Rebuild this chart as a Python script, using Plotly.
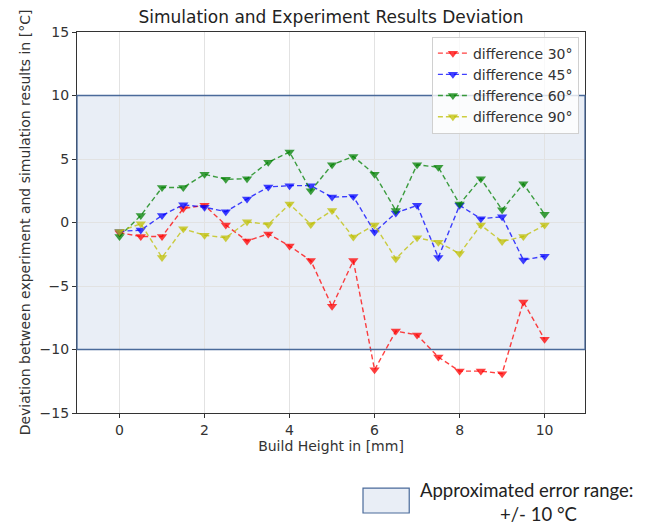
import plotly.graph_objects as go

# ---- data ----
build_height = [0, 0.5, 1, 1.5, 2, 2.5, 3, 3.5, 4, 4.5, 5, 5.5, 6, 6.5, 7, 7.5, 8, 8.5, 9, 9.5, 10]
diff_30 = [-0.8, -1.1, -1.1, 1.1, 1.35, -0.2, -1.45, -0.9, -1.85, -3.0, -6.6, -3.0, -11.6, -8.55, -8.85, -10.6, -11.7, -11.7, -11.9, -6.25, -9.2]
diff_45 = [-0.7, -0.6, 0.55, 1.4, 1.2, 0.85, 1.85, 2.8, 2.9, 2.9, 2.0, 2.05, -0.75, 0.75, 1.35, -2.75, 1.35, 0.3, 0.45, -2.95, -2.65]
diff_60 = [-1.1, 0.55, 2.75, 2.75, 3.8, 3.4, 3.45, 4.75, 5.55, 2.5, 4.55, 5.2, 3.8, 0.95, 4.55, 4.35, 1.45, 3.45, 1.0, 3.05, 0.65]
diff_90 = [-0.7, -0.1, -2.75, -0.5, -1.0, -1.2, 0.05, -0.15, 1.45, -0.15, 0.95, -1.15, -0.2, -2.85, -1.2, -1.55, -2.45, -0.2, -1.5, -1.1, -0.2]
series_names = ["difference 30°", "difference 45°", "difference 60°", "difference 90°"]
series_colors = ["rgba(255,0,0,0.75)", "rgba(0,0,255,0.75)", "rgba(0,128,0,0.75)", "rgba(191,191,0,0.75)"]
error_range = 10
x_ticks = [0, 2, 4, 6, 8, 10]
y_ticks = [-15, -10, -5, 0, 5, 10, 15]

fig = go.Figure()
for name, ys, col in zip(series_names, [diff_30, diff_45, diff_60, diff_90], series_colors):
    fig.add_trace(go.Scatter(
        x=build_height, y=ys, name=name, mode="lines+markers",
        line=dict(color=col, width=1.4, dash="5px,3px"),
        marker=dict(symbol="triangle-down", size=9, color=col, line=dict(width=0)),
    ))

# error range band (fill below grid, border above)
fig.add_shape(type="rect", xref="x domain", yref="y", x0=0, x1=1,
              y0=-error_range, y1=error_range, layer="below",
              fillcolor="#e9eef6", line=dict(width=0))
fig.add_shape(type="rect", xref="x domain", yref="y", x0=0, x1=1,
              y0=-error_range, y1=error_range, layer="above",
              fillcolor="rgba(0,0,0,0)", line=dict(color="#4a6a9a", width=1.3))

# external legend for error range
fig.add_shape(type="rect", xref="paper", yref="paper", x0=0.563, x1=0.654,
              y0=-0.2625, y1=-0.197, fillcolor="#e9eef6",
              line=dict(color="#4a6a9a", width=1.2))
fig.add_annotation(xref="paper", yref="paper", x=0.672, y=-0.203, xanchor="left",
                   yanchor="middle", showarrow=False, text="Approximated error range:",
                   font=dict(family="Lato", size=18.5, color="#222"))
fig.add_annotation(xref="paper", yref="paper", x=0.909, y=-0.264, xanchor="center",
                   yanchor="middle", showarrow=False, text="+/- 10 °C",
                   font=dict(family="Lato", size=18.5, color="#222"))

axis_common = dict(showline=True, mirror=True, linecolor="#333", linewidth=1.3,
                   ticks="outside", ticklen=4, tickcolor="#333", showgrid=True,
                   gridcolor="#e2e2e2", gridwidth=1, zeroline=False,
                   tickfont=dict(family="DejaVu Sans", size=14, color="#333"))

fig.update_xaxes(range=[-1, 10.95], tickvals=x_ticks,
                 title=dict(text="Build Height in [mm]", standoff=4,
                            font=dict(family="DejaVu Sans", size=14, color="#333")),
                 **axis_common)
fig.update_yaxes(range=[-15, 15], tickvals=y_ticks,
                 title=dict(text="Deviation between experiment and simulation results in [°C]",
                            standoff=5, font=dict(family="DejaVu Sans", size=14, color="#333")),
                 **axis_common)

fig.update_layout(
    width=646, height=526,
    margin=dict(l=77, r=61, t=32, b=113),
    plot_bgcolor="white", paper_bgcolor="white",
    title=dict(text="Simulation and Experiment Results Deviation", x=0.5, xref="paper",
               xanchor="center", y=0.967, yanchor="middle",
               font=dict(family="DejaVu Sans", size=17, color="#222")),
    legend=dict(x=0.988, y=0.988, xanchor="right", yanchor="top",
                bgcolor="rgba(255,255,255,0.8)", bordercolor="#d0d0d0", borderwidth=1,
                font=dict(family="DejaVu Sans", size=14, color="#333"), itemwidth=30),
    showlegend=True,
)

fig.write_html("out.html")
